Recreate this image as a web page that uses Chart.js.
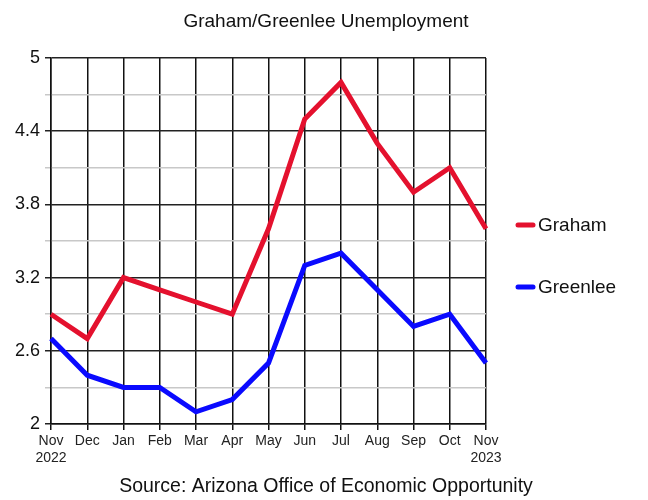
<!DOCTYPE html>
<html>
<head>
<meta charset="utf-8">
<script src="https://cdn.jsdelivr.net/npm/chart.js@4"></script>
<style>
  html, body { margin: 0; padding: 0; background: #fff; }
  #wrap { width: 648px; height: 500px; }
</style>
</head>
<body>
<div id="wrap"><canvas id="chartCanvasId" width="648" height="500"></canvas></div>
<script>
"use strict";

// chart data
const months   = [["Nov", "2022"], "Dec", "Jan", "Feb", "Mar", "Apr", "May", "Jun", "Jul", "Aug", "Sep", "Oct", ["Nov", "2023"]]
const graham   = [2.9, 2.7, 3.2, 3.1, 3.0, 2.9, 3.6, 4.5, 4.8, 4.3, 3.9, 4.1, 3.6]
const greenlee = [2.7, 2.4, 2.3, 2.3, 2.1, 2.2, 2.5, 3.3, 3.4, 3.1, 2.8, 2.9, 2.5]
const yTicks   = [2, 2.6, 3.2, 3.8, 4.4, 5]
const chartTitle = "Graham/Greenlee Unemployment"
const sourceText = "Source: Arizona Office of Economic Opportunity"

const fontName = "'Liberation Sans', Arial, sans-serif"

function isMajor(v) {
    return yTicks.some(t => Math.abs(t - v) < 0.001)
}

// title, source line and legend drawn on top
const textPlugin = {
    id: "texts",
    afterDraw(chart) {
        const ctx = chart.ctx
        ctx.save()
        ctx.fillStyle = "#111"
        ctx.textBaseline = "middle"
        ctx.textAlign = "center"
        ctx.font = "19px " + fontName
        ctx.fillText(chartTitle, 326, 22)
        ctx.font = "19.5px " + fontName
        ctx.fillText(sourceText, 326, 487)

        // legend
        ctx.textAlign = "left"
        ctx.font = "19px " + fontName
        const rows = [225, 287]
        chart.data.datasets.forEach((ds, i) => {
            ctx.strokeStyle = ds.borderColor
            ctx.lineWidth = 5
            ctx.lineCap = "round"
            ctx.beginPath()
            ctx.moveTo(518, rows[i])
            ctx.lineTo(533, rows[i])
            ctx.stroke()
            ctx.fillStyle = "#111"
            ctx.fillText(ds.label, 538, rows[i] + 1)
        })
        ctx.restore()
    }
}

const chartCanvas  = document.getElementById("chartCanvasId")
const chartContext = chartCanvas.getContext("2d")

const myChart = new Chart(chartContext, {
    type: "line",
    data: {
        labels: months,
        datasets: [
            {
                label: "Graham",
                data: graham,
                borderColor: "#e4112e",
                borderWidth: 5,
                pointRadius: 0,
                tension: 0,
                borderJoinStyle: "miter"
            },
            {
                label: "Greenlee",
                data: greenlee,
                borderColor: "#0a0aff",
                borderWidth: 5,
                pointRadius: 0,
                tension: 0,
                borderJoinStyle: "miter"
            }
        ]
    },
    options: {
        responsive: false,
        animation: false,
        layout: { padding: { left: 0, right: 162, top: 58, bottom: 0 } },
        plugins: {
            legend: { display: false },
            title: { display: false },
            tooltip: { enabled: false }
        },
        scales: {
            x: {
                offset: false,
                grid: {
                    color: "#111",
                    lineWidth: 1.5,
                    tickLength: 6,
                    tickColor: "#111"
                },
                border: { color: "#111", width: 1.5 },
                ticks: {
                    color: "#222",
                    font: { family: fontName, size: 14 },
                    maxRotation: 0,
                    autoSkip: false,
                    padding: 3
                },
                afterFit(scale) { scale.height = 76 }
            },
            y: {
                min: 2,
                max: 5,
                grid: {
                    color: ctx => isMajor(ctx.tick.value) ? "#222" : "#c8c8c8",
                    lineWidth: 1.5,
                    tickLength: 6,
                    tickColor: ctx => isMajor(ctx.tick.value) ? "#222" : "#c8c8c8"
                },
                border: { color: "#111", width: 1.5 },
                ticks: {
                    stepSize: 0.3,
                    color: "#111",
                    font: { family: fontName, size: 18 },
                    padding: 5,
                    callback: v => isMajor(v) ? String(Math.round(v * 10) / 10) : ""
                },
                afterFit(scale) { scale.width = 51 }
            }
        }
    },
    plugins: [textPlugin]
})
</script>
</body>
</html>
